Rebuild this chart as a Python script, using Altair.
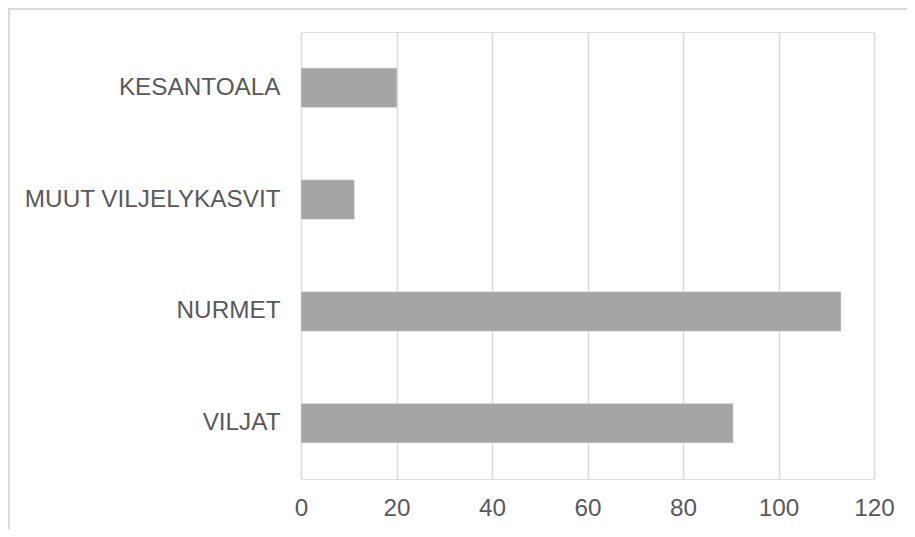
import altair as alt
import pandas as pd

categories = ["KESANTOALA", "MUUT VILJELYKASVIT", "NURMET", "VILJAT"]
values = [20.1, 11.2, 113.1, 90.5]
x_ticks = [0, 20, 40, 60, 80, 100, 120]

df = pd.DataFrame({"category": categories, "value": values})

W, H = 573, 447
PAD_L, PAD_T = 293, 24

bars = alt.Chart(df).mark_bar(color="#a5a5a5", stroke="#e3e3e3", strokeWidth=0.6).encode(
    x=alt.X("value:Q",
            scale=alt.Scale(domain=[0, 120], nice=False),
            axis=alt.Axis(values=x_ticks, title=None, domain=False, ticks=False,
                          grid=True, gridColor="#d9d9d9", gridWidth=1.5,
                          labelFont="Liberation Sans", labelFontSize=24.3,
                          labelColor="#595959", labelPadding=17, labelFlush=False)),
    y=alt.Y("category:N", sort=categories,
            scale=alt.Scale(paddingInner=0.6465, paddingOuter=0.323),
            axis=alt.Axis(title=None, domain=False, ticks=False, grid=False,
                          labelFont="Liberation Sans", labelFontSize=24.3,
                          labelColor="#595959", labelPadding=21, labelLimit=400)),
)

border_left = alt.Chart(df).mark_rule(color="#d9d9d9", strokeWidth=1.5).encode(
    x=alt.value(-PAD_L + 0.75), y=alt.value(-PAD_T), y2=alt.value(H + 60)
)
border_top = alt.Chart(df).mark_rule(color="#d9d9d9", strokeWidth=1.5).encode(
    y=alt.value(-PAD_T + 0.75), x=alt.value(-PAD_L), x2=alt.value(W + 40)
)

chart = alt.layer(bars, border_left, border_top).properties(
    width=W, height=H,
    autosize=alt.AutoSizeParams(type="none"),
    padding={"left": PAD_L, "top": PAD_T, "right": 33, "bottom": 50},
).configure_view(stroke=None).configure(background="white")

chart.save("out.html", embed_options={"renderer": "svg", "actions": False})
